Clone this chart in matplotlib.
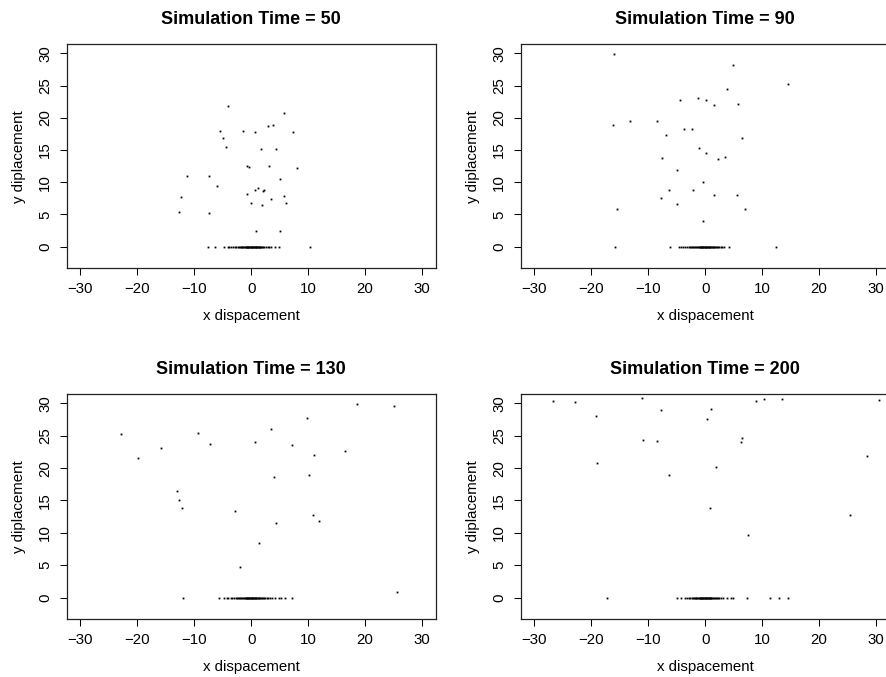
import matplotlib
matplotlib.use("Agg")
import matplotlib.pyplot as plt

plt.rcParams['font.family'] = ['Liberation Sans', 'DejaVu Sans']

# Particle positions at four simulation times (airborne particles + settled ones at y = 0)
times = [50, 90, 130, 200]

air_x_50 = [-4.1, 5.8, -5.5, -1.5, 0.6, 2.9, 3.8, 7.3, -4.9, -4.5, 1.8, 4.4,
            -0.7, -0.3, 3.2, 8.0, -11.3, -7.4, 5.1, -6.0, 1.2, 0.6, 2.3, 2.1,
            -0.8, 3.4, 5.7, -12.3, 6.1, 0.0, 1.9, -12.6, -7.4, 0.8, 5.0]
air_y_50 = [21.8, 20.8, 17.9, 18.0, 17.8, 18.7, 18.9, 17.8, 16.8, 15.4, 15.2, 15.2,
            12.5, 12.3, 12.5, 12.2, 11.0, 11.0, 10.5, 9.4, 9.1, 8.8, 8.8, 8.6,
            8.1, 7.4, 7.8, 7.7, 6.8, 6.8, 6.4, 5.4, 5.2, 2.4, 2.4]
ground_x_50 = [-7.6, -6.3, -4.7, -4.1, -3.9, -3.5, -3.2, -2.9, -2.7, -2.4, -2.2,
               -2.0, -1.85, -1.7, -1.55, -1.4, -1.25, -1.1, -1.0, -0.9, -0.8,
               -0.7, -0.6, -0.5, -0.4, -0.3, -0.2, -0.1, 0.0, 0.1, 0.2, 0.3, 0.4,
               0.5, 0.6, 0.7, 0.8, 0.9, 1.0, 1.1, 1.2, 1.3, 1.4, 1.5, 1.6, 1.7,
               1.85, 2.0, 2.3, 2.6, 2.9, 3.1, 3.5, 4.2, 4.9, 10.4]

air_x_90 = [-16.1, 4.9, 14.6, 3.8, -4.5, -1.3, 0.2, 1.5, 5.8, -16.2, -13.2, -8.4,
            -3.8, -2.3, -6.9, 6.4, -1.1, 0.2, -7.5, 2.3, 3.5, -4.9, -0.4, -6.3,
            -2.1, 1.6, 5.6, -7.8, -4.9, -15.5, 7.0, -0.4]
air_y_90 = [29.9, 28.2, 25.2, 24.4, 22.7, 23.1, 22.7, 22.0, 22.2, 18.9, 19.5, 19.5,
            18.2, 18.3, 17.3, 16.8, 15.3, 14.6, 13.7, 13.6, 13.9, 11.9, 10.0, 8.8,
            8.8, 8.0, 8.0, 7.6, 6.6, 5.9, 5.9, 4.0]
ground_x_90 = [-15.9, -6.2, -4.6, -4.3, -3.9, -3.5, -3.2, -2.9, -2.7, -2.5, -2.3,
               -2.1, -1.9, -1.75, -1.6, -1.45, -1.3, -1.15, -1.0, -0.9, -0.8,
               -0.7, -0.6, -0.5, -0.4, -0.3, -0.2, -0.1, 0.0, 0.1, 0.2, 0.3, 0.4,
               0.5, 0.6, 0.7, 0.8, 0.9, 1.0, 1.15, 1.3, 1.45, 1.6, 1.75, 1.9, 2.1,
               2.3, 2.5, 2.8, 3.0, 3.3, 4.2, 12.5]

air_x_130 = [18.5, 25.0, 9.8, 3.5, -22.9, -9.4, -7.3, 0.6, 7.1, -15.9, 16.4, 11.0,
             -19.9, 4.0, 10.2, -13.1, -12.7, -12.2, -2.9, 10.8, 11.9, 4.4, 1.4,
             -2.0, 25.6]
air_y_130 = [29.9, 29.6, 27.7, 26.0, 25.2, 25.5, 23.7, 24.1, 23.5, 23.1, 22.7, 22.0,
             21.5, 18.6, 19.0, 16.5, 15.0, 13.9, 13.3, 12.8, 11.8, 11.6, 8.5,
             4.8, 0.9]
ground_x_130 = [-11.9, -5.6, -4.7, -4.3, -4.0, -3.6, -3.3, -3.0, -2.7, -2.5, -2.3,
                -2.1, -1.9, -1.75, -1.6, -1.45, -1.3, -1.15, -1.0, -0.9, -0.8,
                -0.7, -0.6, -0.5, -0.4, -0.3, -0.2, -0.1, 0.0, 0.1, 0.2, 0.3,
                0.4, 0.5, 0.6, 0.7, 0.8, 0.9, 1.0, 1.15, 1.3, 1.45, 1.6, 1.75,
                1.9, 2.1, 2.3, 2.5, 2.7, 3.0, 3.3, 3.6, 4.2, 4.9, 5.3, 6.0, 7.1]

air_x_200 = [-26.7, -22.8, -11.1, -19.2, -7.8, 1.1, 0.3, 8.9, 10.3, 13.4, 30.5,
             -11.0, -8.5, 6.4, 6.3, -19.0, 1.9, -6.3, 28.4, 0.8, 25.4, 7.5]
air_y_200 = [30.3, 30.2, 30.8, 28.0, 29.0, 29.2, 27.6, 30.3, 30.6, 30.6, 30.5,
             24.4, 24.2, 24.7, 24.0, 20.8, 20.1, 19.0, 21.8, 13.9, 12.7, 9.7]
ground_x_200 = [-17.3, -4.9, -4.3, -3.5, -3.2, -2.8, -2.6, -2.4, -2.2, -2.0, -1.85,
                -1.7, -1.55, -1.4, -1.25, -1.1, -1.0, -0.9, -0.8, -0.7, -0.6,
                -0.5, -0.4, -0.3, -0.2, -0.1, 0.0, 0.1, 0.2, 0.3, 0.4, 0.5, 0.6,
                0.7, 0.8, 0.9, 1.0, 1.1, 1.25, 1.4, 1.55, 1.7, 1.85, 2.0, 2.2,
                2.5, 2.8, 3.2, 3.9, 4.5, 4.9, 7.3, 11.4, 12.9, 14.6]

panels = [
    (air_x_50, air_y_50, ground_x_50),
    (air_x_90, air_y_90, ground_x_90),
    (air_x_130, air_y_130, ground_x_130),
    (air_x_200, air_y_200, ground_x_200),
]

x_ticks = [-30, -20, -10, 0, 10, 20, 30]
y_ticks = [0, 5, 10, 15, 20, 25, 30]

W, H = 887, 677
fig = plt.figure(figsize=(W / 100, H / 100), dpi=100)

# axes boxes in pixels: (left, top, right, bottom)
boxes = [
    (66.7, 44.3, 435.7, 268.3),
    (520.7, 44.3, 889.7, 268.3),
    (66.7, 394.3, 435.7, 619.3),
    (520.7, 394.3, 889.7, 619.3),
]

for (l, t, r, b), (ax_x, ax_y, gx), tm in zip(boxes, panels, times):
    ax = fig.add_axes([l / W, 1 - b / H, (r - l) / W, (b - t) / H])
    px = list(ax_x) + list(gx)
    py = list(ax_y) + [0.0] * len(gx)
    ax.plot(px, py, linestyle='none', marker='s', markersize=1.3,
            markeredgewidth=0, color='black')
    ax.set_xlim(-32.4, 32.4)
    ax.set_ylim(-3.35, 31.4)
    ax.set_xticks(x_ticks)
    ax.set_yticks(y_ticks)
    ax.tick_params(direction='out', length=4.8, width=0.75, labelsize=10.8,
                   color='black', labelcolor='black')
    ax.tick_params(axis='x', pad=5.3)
    ax.tick_params(axis='y', pad=5.8)
    for lab in ax.get_yticklabels():
        lab.set_rotation(90)
        lab.set_va('center')
    for s in ax.spines.values():
        s.set_linewidth(0.9)
        s.set_color('#222222')
    hpx = b - t
    wpx = r - l
    ax.set_xlabel('x dispacement', fontsize=10.8)
    ax.xaxis.set_label_coords(0.5, -48.0 / hpx)
    ax.xaxis.label.set_va('center')
    ax.set_ylabel('y diplacement', fontsize=10.8)
    ax.yaxis.set_label_coords(-47.7 / wpx, 0.5)
    ax.yaxis.label.set_va('center')
    ax.text(0.5, 1 + 20.3 / hpx, f'Simulation Time = {tm}',
            transform=ax.transAxes, ha='center', va='baseline',
            fontsize=13, fontweight='bold')

fig.savefig('out.png', dpi=100)
